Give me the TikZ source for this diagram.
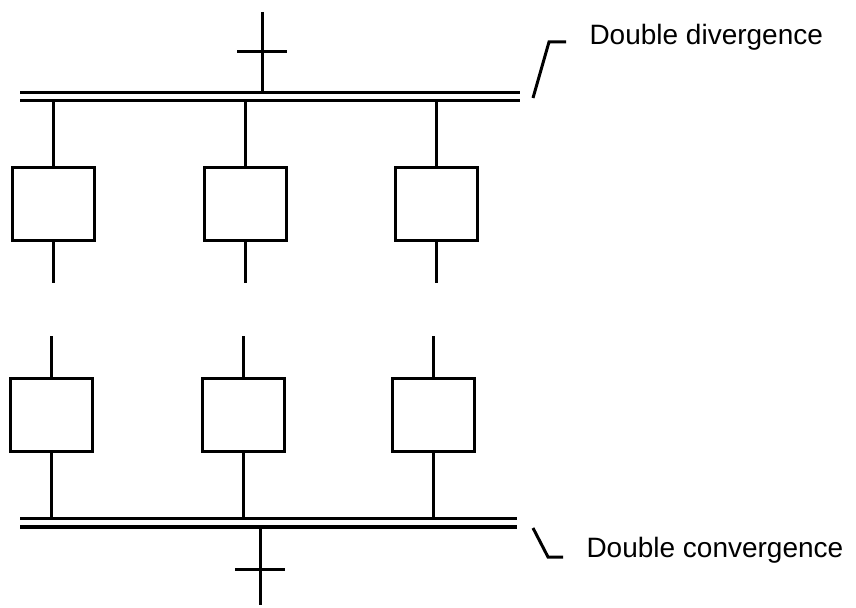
\documentclass[tikz,border=0pt]{standalone}
\usepackage{fontspec}
\setmainfont{Liberation Sans}
\usetikzlibrary{positioning, calc}

\begin{document}
\begin{tikzpicture}[x=0.5pt, y=-0.5pt, line width=1.5pt,
    stepbox/.style={draw, rectangle, minimum width=41pt, minimum height=36.5pt, inner sep=0pt},
    note/.style={font=\fontsize{14}{16}\selectfont, anchor=base west, inner sep=0pt}]
    \useasboundingbox (0,0) rectangle (856,608);

    % Incoming transition
    \coordinate (top) at (262,12);
    \coordinate (div) at (262,93);
    \draw (top) -- (div);
    \draw (237,52) -- (287,52);

    % Double divergence
    \draw (20,93) -- (520,93);
    \draw (20,101) -- (520,101);
    \coordinate (divlow) at (20,101);

    % Upper steps
    \node[stepbox] (s1) at (53,204) {};
    \node[stepbox] (s2) at (245,204) {};
    \node[stepbox] (s3) at (436,204) {};
    \draw (s1.north) -- (s1 |- divlow);
    \draw (s2.north) -- (s2 |- divlow);
    \draw (s3.north) -- (s3 |- divlow);
    \draw (s1.south) -- ++(0,41);
    \draw (s2.south) -- ++(0,41);
    \draw (s3.south) -- ++(0,41);

    % Lower steps
    \node[stepbox] (s4) at (51,415) {};
    \node[stepbox] (s5) at (243,415) {};
    \node[stepbox] (s6) at (433,415) {};
    \draw (s4.north) -- ++(0,-41);
    \draw (s5.north) -- ++(0,-41);
    \draw (s6.north) -- ++(0,-41);

    % Double convergence
    \draw (20,519) -- (517,519);
    \draw (20,527) -- (517,527);
    \coordinate (conv) at (20,519);
    \draw (s4.south) -- (s4 |- conv);
    \draw (s5.south) -- (s5 |- conv);
    \draw (s6.south) -- (s6 |- conv);

    % Outgoing transition
    \coordinate (conv2) at (260,527);
    \coordinate (bottom) at (260,605);
    \draw (conv2) -- (bottom);
    \draw (235,569) -- (285,569);

    % Labels
    \node[note] (divtext) at (588,45) {Double divergence};
    \node[note] (convtext) at (585,558) {Double convergence};
    \draw (533,98) -- (549,42) -- (566,42);
    \draw (533,528) -- (548,557) -- (563,557);
\end{tikzpicture}
\end{document}
